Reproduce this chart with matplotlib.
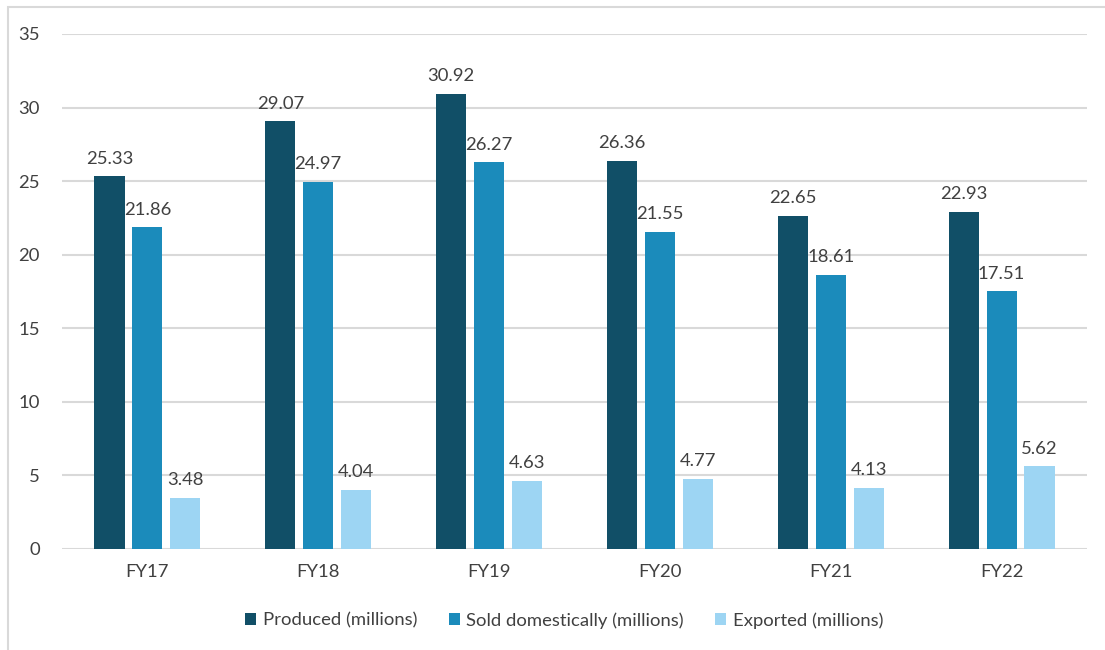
import numpy as np
import matplotlib
matplotlib.use('Agg')
import matplotlib.pyplot as plt
from matplotlib.patches import Rectangle

# Vehicle production, domestic sales and exports per fiscal year
years = ['FY17', 'FY18', 'FY19', 'FY20', 'FY21', 'FY22']
produced = [25.33, 29.07, 30.92, 26.36, 22.65, 22.93]
sold_domestic = [21.86, 24.97, 26.27, 21.55, 18.61, 17.51]
exported = [3.48, 4.04, 4.63, 4.77, 4.13, 5.62]

series = [
    ('Produced (millions)', produced, '#114F67'),
    ('Sold domestically (millions)', sold_domestic, '#1B8BBB'),
    ('Exported (millions)', exported, '#9DD5F3'),
]

plt.rcParams['font.family'] = ['Lato', 'DejaVu Sans']
text_color = '#404040'
fs = 13.3

fig = plt.figure(figsize=(11.05, 6.5), dpi=100)
ax = fig.add_axes([0.0561, 0.1554, 0.9276, 0.7923])

# light frame around the chart
fig.patches.append(Rectangle((8 / 1105, -0.1), 1.2, 1 - 7 / 650 + 0.1,
                             transform=fig.transFigure, fill=False,
                             edgecolor='#D9D9D9', linewidth=1.5))

x = np.arange(len(years))
width = 0.176
step = 0.222

for i, (label, values, color) in enumerate(series):
    pos = x + (i - 1) * step
    bars = ax.bar(pos, values, width, color=color, label=label, zorder=3)
    for b, v in zip(bars, values):
        ax.annotate(f'{v:.2f}', (b.get_x() + b.get_width() / 2, v),
                    xytext=(0, 7), textcoords='offset points',
                    ha='center', va='bottom', fontsize=fs, color=text_color)

ax.set_xlim(-0.5, len(years) - 0.5)
ax.set_ylim(0, 35)
ax.set_yticks(range(0, 36, 5))
ax.set_xticks(x)
ax.set_xticklabels(years)
ax.tick_params(axis='both', length=0, labelsize=fs, labelcolor=text_color)
ax.tick_params(axis='y', pad=16)
ax.tick_params(axis='x', pad=11)
ax.yaxis.grid(True, color='#D9D9D9', linewidth=1.5, zorder=0)
ax.set_axisbelow(True)
for s in ax.spines.values():
    s.set_visible(False)

ax.legend(loc='center', bbox_to_anchor=(0.49, -0.139), ncol=3, frameon=False,
          fontsize=fs, handlelength=0.6, handleheight=0.6, handletextpad=0.35,
          columnspacing=1.7, labelcolor=text_color)

fig.savefig('out.png', dpi=100)
